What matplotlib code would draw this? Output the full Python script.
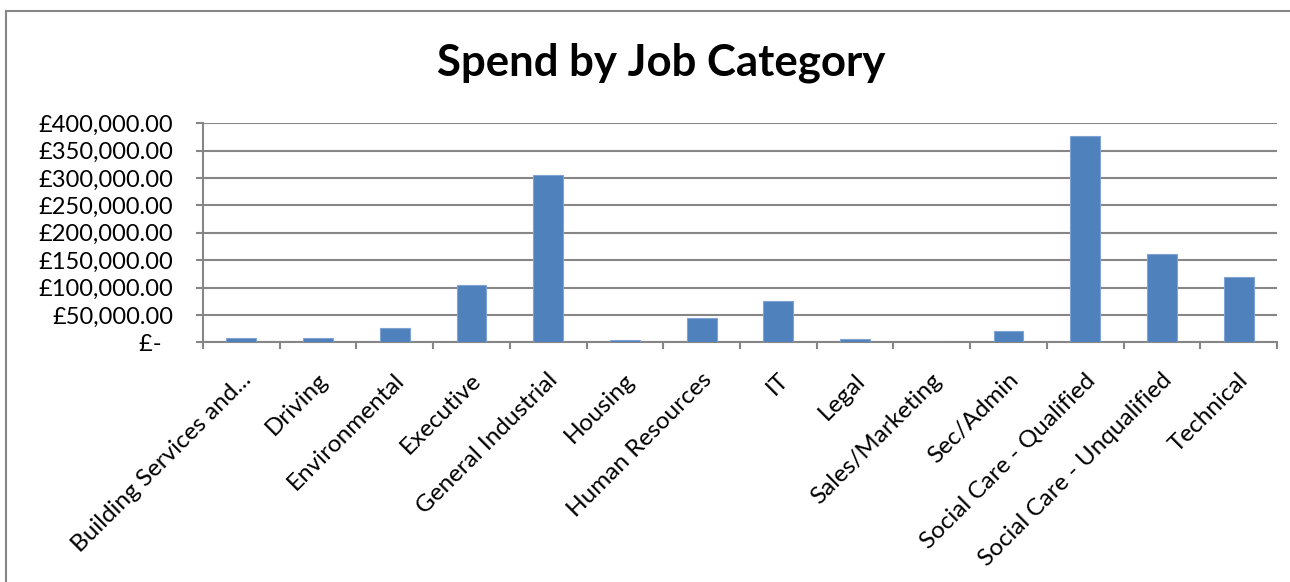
import matplotlib
matplotlib.use("Agg")
import matplotlib.pyplot as plt
from matplotlib.patches import Rectangle
from matplotlib.ticker import FuncFormatter, MultipleLocator, FixedLocator, NullFormatter
from matplotlib.transforms import blended_transform_factory, ScaledTranslation

categories = [
    "Building Services and...", "Driving", "Environmental", "Executive",
    "General Industrial", "Housing", "Human Resources", "IT", "Legal",
    "Sales/Marketing", "Sec/Admin", "Social Care - Qualified",
    "Social Care - Unqualified", "Technical",
]
spend = [7400, 8000, 26000, 105000, 306000, 3500, 44500, 76000, 6700,
         0, 21000, 376000, 161000, 118500]

FONT = "Lato"
W, H = 1290, 582
fig = plt.figure(figsize=(W / 100, H / 100), dpi=100)
fig.patch.set_facecolor("white")

# chart frame
fig.patches.append(Rectangle((6 / W, -0.1), 1.2, (H - 11) / H + 0.1,
                             transform=fig.transFigure, fill=False,
                             edgecolor="#868686", linewidth=1.5))

ax = fig.add_axes([203 / W, (H - 342.3) / H, (1277 - 203) / W, (342.3 - 123.3) / H])
x = list(range(len(categories)))
ax.bar(x, spend, width=0.39, color="#4F81BD", edgecolor="#7FA3D3", linewidth=0.8, zorder=3)

ax.set_xlim(-0.5, len(categories) - 0.5)
ax.set_ylim(0, 400000)
ax.yaxis.set_major_locator(MultipleLocator(50000))


def money(v, pos):
    if v == 0:
        return "£-  "
    return f"£{v:,.2f}"


ax.yaxis.set_major_formatter(FuncFormatter(money))
ax.grid(axis="y", color="#868686", linewidth=1.5, zorder=0)
ax.set_axisbelow(True)

# tick marks sit between categories
ax.xaxis.set_major_locator(FixedLocator([i - 0.5 for i in range(len(categories) + 1)]))
ax.xaxis.set_major_formatter(NullFormatter())
ax.tick_params(axis="x", which="major", length=5, width=1.5, color="#868686", direction="out")
ax.tick_params(axis="y", length=5, width=1.5, color="#868686", direction="out", pad=16.5)
for lab in ax.get_yticklabels():
    lab.set_fontsize(17)
    lab.set_family(FONT)

# rotated category labels, right end just below each category centre
label_tf = blended_transform_factory(ax.transData, ax.transAxes) + \
    ScaledTranslation(-1 / 100, -27 / 100, fig.dpi_scale_trans)
for xi, name in zip(x, categories):
    ax.text(xi, 0, name, transform=label_tf, rotation=45, ha="right", va="top",
            rotation_mode="anchor", fontsize=17.5, family=FONT)

for side in ("top", "right"):
    ax.spines[side].set_visible(False)
for side in ("left", "bottom"):
    ax.spines[side].set_color("#868686")
    ax.spines[side].set_linewidth(1.5)

fig.text(661 / W, (H - 63) / H, "Spend by Job Category", ha="center", va="center",
         fontsize=31.5, fontweight="bold", family=FONT)

fig.savefig("out.png", dpi=100, facecolor="white")
